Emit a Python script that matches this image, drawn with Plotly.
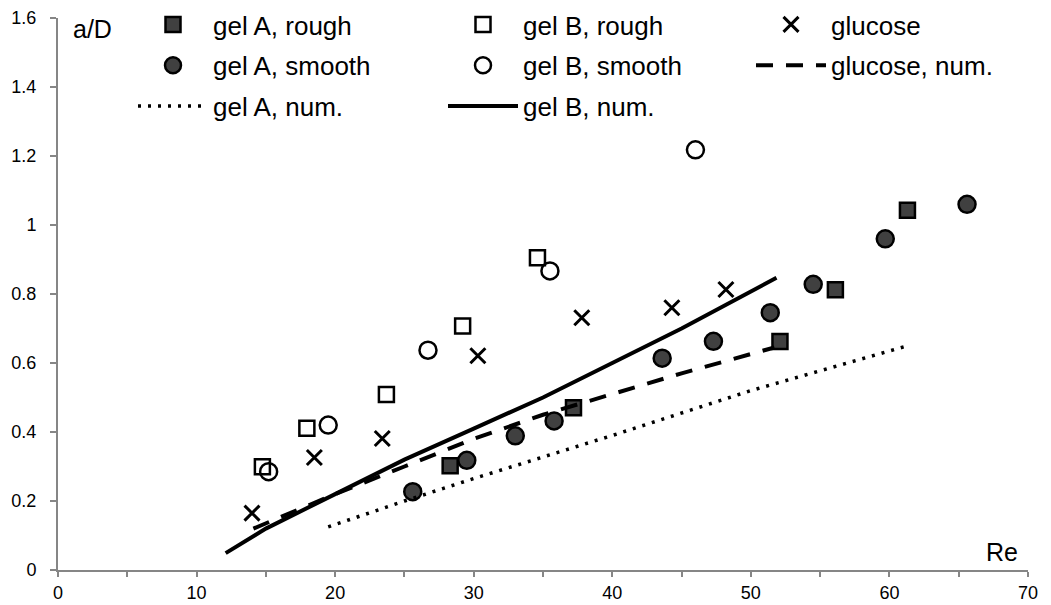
import plotly.graph_objects as go

# ---- data ----
gelA_rough_re = [28.3, 37.2, 52.1, 56.1, 61.3]
gelA_rough_ad = [0.302, 0.470, 0.662, 0.812, 1.043]

gelA_smooth_re = [25.6, 29.5, 33.0, 35.8, 43.6, 47.3, 51.4, 54.5, 59.7, 65.6]
gelA_smooth_ad = [0.227, 0.318, 0.389, 0.432, 0.614, 0.663, 0.746, 0.828, 0.960, 1.060]

gelB_rough_re = [14.75, 17.96, 23.7, 29.2, 34.6]
gelB_rough_ad = [0.299, 0.411, 0.509, 0.707, 0.905]

gelB_smooth_re = [15.2, 19.5, 26.7, 35.5, 46.0]
gelB_smooth_ad = [0.285, 0.420, 0.637, 0.867, 1.218]

glucose_re = [14.0, 18.5, 23.4, 30.3, 37.8, 44.3, 48.2]
glucose_ad = [0.165, 0.326, 0.381, 0.621, 0.731, 0.760, 0.813]

glucose_num_re = [14.1, 17.0, 20.0, 25.0, 30.0, 35.0, 40.0, 45.0, 51.7]
glucose_num_ad = [0.120, 0.169, 0.220, 0.300, 0.380, 0.450, 0.510, 0.570, 0.645]

gelA_num_re = [19.5, 25.0, 30.0, 40.0, 50.0, 61.5]
gelA_num_ad = [0.125, 0.200, 0.265, 0.390, 0.520, 0.652]

gelB_num_re = [12.1, 15.0, 20.0, 25.0, 30.0, 35.0, 40.0, 45.0, 51.85]
gelB_num_ad = [0.049, 0.120, 0.220, 0.320, 0.410, 0.500, 0.600, 0.700, 0.847]

x_ticks = [0, 10, 20, 30, 40, 50, 60, 70]
y_ticks = [0, 0.2, 0.4, 0.6, 0.8, 1.0, 1.2, 1.4, 1.6]
y_tick_text = ["0", "0.2", "0.4", "0.6", "0.8", "1", "1.2", "1.4", "1.6"]

FONT = "Arial, Liberation Sans, sans-serif"
FILL = "#404040"
AXC = "#868686"

fig = go.Figure()

# column 1 legend: gel A
fig.add_trace(go.Scatter(x=gelA_rough_re, y=gelA_rough_ad, mode="markers", name="gel A, rough",
                         legend="legend", legendgroup="a1",
                         marker=dict(symbol="square", size=15, color=FILL, line=dict(color="black", width=2.5))))
fig.add_trace(go.Scatter(x=gelA_smooth_re, y=gelA_smooth_ad, mode="markers", name="gel A, smooth",
                         legend="legend", legendgroup="a2",
                         marker=dict(symbol="circle", size=17, color=FILL, line=dict(color="black", width=2.5))))
fig.add_trace(go.Scatter(x=gelA_num_re, y=gelA_num_ad, mode="lines", name="gel A, num.",
                         legend="legend", legendgroup="a3",
                         line=dict(color="black", width=3.5, dash="3px,7px")))

# column 2 legend: gel B
fig.add_trace(go.Scatter(x=gelB_rough_re, y=gelB_rough_ad, mode="markers", name="gel B, rough",
                         legend="legend2", legendgroup="b1",
                         marker=dict(symbol="square-open", size=15, color="black", line=dict(color="black", width=2.5))))
fig.add_trace(go.Scatter(x=gelB_smooth_re, y=gelB_smooth_ad, mode="markers", name="gel B, smooth",
                         legend="legend2", legendgroup="b2",
                         marker=dict(symbol="circle-open", size=17, color="black", line=dict(color="black", width=2.5))))
fig.add_trace(go.Scatter(x=gelB_num_re, y=gelB_num_ad, mode="lines", name="gel B, num.",
                         legend="legend2", legendgroup="b3",
                         line=dict(color="black", width=4)))

# column 3 legend: glucose
fig.add_trace(go.Scatter(x=glucose_re, y=glucose_ad, mode="markers", name="glucose",
                         legend="legend3", legendgroup="c1",
                         marker=dict(symbol="x-thin-open", size=15, color="black", line=dict(color="black", width=3))))
fig.add_trace(go.Scatter(x=glucose_num_re, y=glucose_num_ad, mode="lines", name="glucose, num.",
                         legend="legend3", legendgroup="c2",
                         line=dict(color="black", width=4, dash="17px,13px")))

# page has an 8px body margin, so the figure is sized to fit inside the window
W, H = 1043, 597
T, B = 10, 35
PLOT_H = H - T - B

def leg(xpx):
    return dict(x=xpx / W, y=1 + 17 / PLOT_H, xref="container", yref="paper",
                xanchor="left", yanchor="top", bgcolor="rgba(0,0,0,0)",
                font=dict(family=FONT, size=26, color="black"),
                itemwidth=70, tracegroupgap=4, traceorder="grouped", orientation="v")

fig.update_layout(
    width=W, height=H,
    margin=dict(l=50, r=23, t=T, b=B, autoexpand=False),
    paper_bgcolor="white", plot_bgcolor="white",
    showlegend=True,
    legend=leg(125), legend2=leg(435), legend3=leg(743),
    font=dict(family=FONT, color="black"),
    xaxis=dict(range=[0, 70], tickvals=x_ticks, showgrid=False, zeroline=False,
               showline=True, linecolor=AXC, linewidth=2,
               ticks="outside", ticklen=5, tickwidth=2, tickcolor=AXC,
               minor=dict(dtick=5, tick0=0, ticks="outside", ticklen=5, tickwidth=2, tickcolor=AXC),
               ticklabeloverflow="allow",
               tickfont=dict(family=FONT, size=18, color="black")),
    yaxis=dict(range=[0, 1.6], tickvals=y_ticks, ticktext=y_tick_text, showgrid=False, zeroline=False,
               showline=True, linecolor=AXC, linewidth=2,
               ticks="outside", ticklen=6, tickwidth=2, tickcolor=AXC, ticklabelstandoff=10,
               ticklabeloverflow="allow",
               tickfont=dict(family=FONT, size=18, color="black")),
    annotations=[
        dict(text="a/D", xref="paper", yref="paper", x=13 / 970, y=1 - 11 / PLOT_H,
             xanchor="left", yanchor="middle", showarrow=False,
             font=dict(family=FONT, size=25, color="black")),
        dict(text="Re", xref="paper", yref="paper", x=1 - 8 / 970, y=18 / PLOT_H,
             xanchor="right", yanchor="middle", showarrow=False,
             font=dict(family=FONT, size=25, color="black")),
    ],
)

fig.write_html("out.html")
